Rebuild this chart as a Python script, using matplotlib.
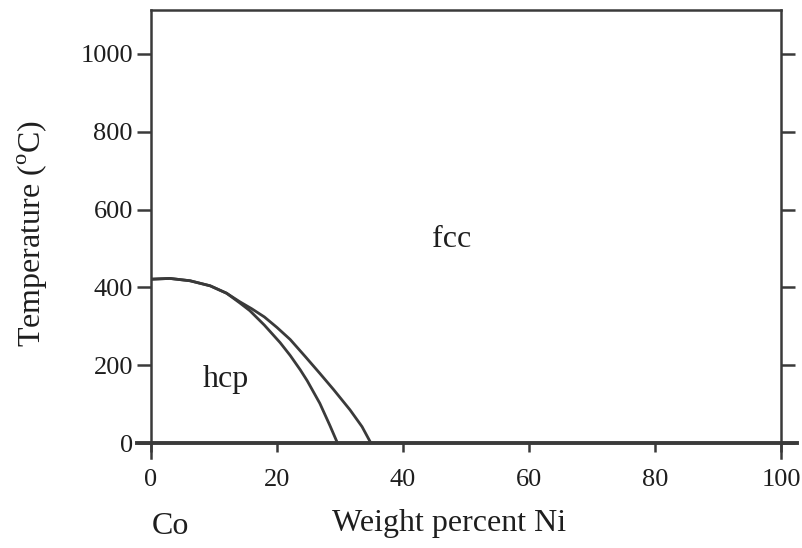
import matplotlib
matplotlib.use("Agg")
import matplotlib.pyplot as plt
from matplotlib.lines import Line2D

plt.rcParams["font.family"] = ["Liberation Serif", "DejaVu Serif"]
plt.rcParams["mathtext.fontset"] = "custom"
plt.rcParams["mathtext.rm"] = "Liberation Serif"

# Co-Ni phase boundaries (weight percent Ni, temperature in C)
outer_ni = [0, 3.0, 6.2, 9.4, 12.0, 14.1, 16.0, 18.0, 20.0, 22.1, 24.5, 26.8, 29.0, 31.6, 33.5, 34.9]
outer_t = [421, 423, 417, 404, 385, 363, 345, 324, 297, 266, 222, 179, 137, 85, 42, 0]
inner_ni = [0, 3.0, 6.2, 9.4, 12.0, 14.1, 15.7, 18.0, 20.5, 22.1, 23.7, 24.8, 26.8, 28.4, 29.6]
inner_t = [421, 423, 417, 404, 385, 360, 340, 303, 258, 225, 188, 160, 102, 45, 0]

x_ticks = [0, 20, 40, 60, 80, 100]
y_ticks = [0, 200, 400, 600, 800, 1000]

ink = "#3a3a3a"
text_c = "#1e1e1e"

fig = plt.figure(figsize=(8.03, 5.48), dpi=100)
ax = fig.add_axes([0.188, 0.1642, 0.7846, 0.8176])
ax.set_xlim(0, 100)
ax.set_ylim(-38.6, 1113)

ax.plot(outer_ni, outer_t, color=ink, lw=2.0, solid_capstyle="round", solid_joinstyle="round")
ax.plot(inner_ni, inner_t, color=ink, lw=2.0, solid_capstyle="round", solid_joinstyle="round")

# zero-temperature baseline extends a little past both frame edges
ax.add_line(Line2D([-2.2, 102.5], [0, 0], color=ink, lw=2.8, clip_on=False))

for side in ("left", "right", "top"):
    ax.spines[side].set_color(ink)
    ax.spines[side].set_linewidth(1.8)
ax.spines["bottom"].set_visible(False)
ax.spines["bottom"].set_position(("data", 0))

ax.set_xticks(x_ticks)
ax.set_yticks(y_ticks)
ax.set_xticklabels([str(v) for v in x_ticks])
ax.set_yticklabels([str(v) for v in y_ticks])
ax.tick_params(axis="y", which="both", direction="out", left=True, right=True,
               length=10, width=1.8, color=ink, labelsize=19, labelcolor=text_c, pad=3)
ax.tick_params(axis="x", which="both", direction="out", bottom=True, top=False,
               length=6.5, width=1.8, color=ink, labelsize=19, labelcolor=text_c, pad=12)

ax.text(47.8, 522, "fcc", fontsize=23, color=text_c, ha="center", va="center")
ax.text(11.9, 162, "hcp", fontsize=23, color=text_c, ha="center", va="center")

fig.text(449 / 803, 1 - 523 / 548, "Weight percent Ni", fontsize=23, color=text_c,
         ha="center", va="center")
fig.text(152 / 803, 1 - 527 / 548, "Co", fontsize=23, color=text_c,
         ha="left", va="center")
fig.text(33 / 803, 1 - 233 / 548, r"Temperature ($^{\mathrm{o}}$C)", fontsize=23,
         color=text_c, ha="center", va="center", rotation=90)

fig.savefig("out.png", dpi=100, facecolor="white")
